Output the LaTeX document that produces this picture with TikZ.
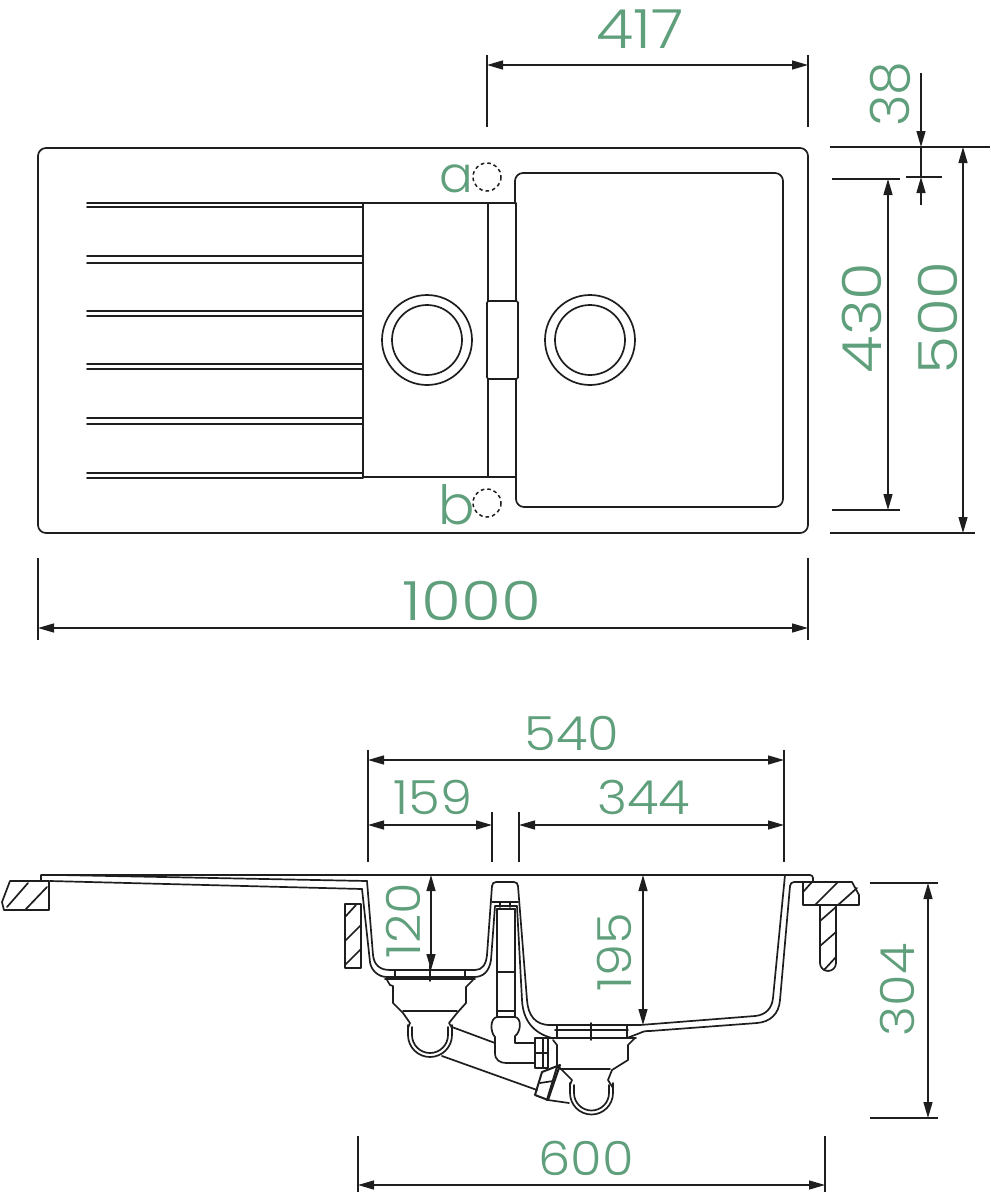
\documentclass[tikz,border=0pt]{standalone}
\usepackage{fontspec}
\setmainfont{Poppins Light}
\usetikzlibrary{arrows.meta}
\definecolor{dimgreen}{HTML}{5F9F7B}
\definecolor{ink}{HTML}{1E1E1E}
\tikzset{
  part/.style={draw=ink,line width=1.7pt,line join=round,line cap=round},
  hole/.style={draw=ink,line width=1.5pt,dashed,dash pattern=on 3.6pt off 3pt},
  extline/.style={draw=ink,line width=1.7pt},
  dimline/.style={draw=ink,line width=1.4pt,{Triangle[length=16pt,width=9pt]}-{Triangle[length=16pt,width=9pt]}},
  dimend/.style={draw=ink,line width=1.4pt,-{Triangle[length=16pt,width=9pt]}},
  dimtext/.style={text=dimgreen,font=\fontsize{54}{54}\selectfont,inner sep=0pt},
  dimwide/.style={dimtext,font=\fontsize{54}{54}\selectfont\addfontfeatures{FakeStretch=#1}},
  sectext/.style={dimtext,font=\fontsize{47}{47}\selectfont\addfontfeatures{FakeStretch=1.09}},
}
\begin{document}
\begin{tikzpicture}[x=1pt,y=-1pt]
\useasboundingbox (0,0) rectangle (991,1200);
% ---------- top view ----------
\draw[part,rounded corners=8pt] (38,148) rectangle (808,533);
\draw[part,rounded corners=8pt] (363,203) [sharp corners] -- (515,203) [rounded corners=8pt] -- (515,173) -- (783,173) -- (783,507) -- (516,507) [sharp corners] -- (516,477) -- (363,477) -- cycle;
\draw[part] (488,203) -- (488,301) (488,379) -- (488,477);
\draw[part] (516,203) -- (516,301) (516,379) -- (516,477);
\draw[part,rounded corners=1.5pt] (487,301) rectangle (518,379);
\foreach \yy/\ya in {203/207,256/263,311/316,364/369,418/424,473/478}{
  \draw[part] (87,\yy) -- (363,\yy) (87,\ya) -- (363,\ya);
}
\draw[part] (427,340) circle[radius=45] (427,340) circle[radius=35];
\draw[part] (590,340) circle[radius=45] (590,340) circle[radius=35];
\draw[hole] (487,177) circle[radius=14] (487,503) circle[radius=14];
\node[dimtext,font=\fontsize{50}{50}\selectfont] (lbla) at (456,179) {a};
\node[dimtext] (lblb) at (457,505) {b};
% top view dimensions
\draw[extline] (487,55) -- (487,127) (808,55) -- (808,127);
\coordinate (d417a) at (487,65); \coordinate (d417b) at (808,65);
\draw[dimline] (d417a) -- (d417b);
\node[dimwide=1.12] (t417) at (640,29) {417};
\draw[extline] (830,147) -- (990,147) (906,177) -- (942,177) (832,179) -- (900,179) (832,510) -- (900,510) (830,533) -- (975,533);
\coordinate (d38top) at (921,73); \coordinate (d38a) at (921,147);
\coordinate (d38bot) at (921,205); \coordinate (d38b) at (921,177);
\draw[dimend] (d38top) -- (d38a);
\draw[dimend] (d38bot) -- (d38b);
\draw[draw=ink,line width=1.4pt] (d38a) -- (d38b);
\node[dimtext,rotate=90] (t38) at (890,94) {38};
\coordinate (d430a) at (888,179); \coordinate (d430b) at (888,510);
\draw[dimline] (d430a) -- (d430b);
\node[dimwide=1.13,rotate=90] (t430) at (862,318) {430};
\coordinate (d500a) at (963,147); \coordinate (d500b) at (963,533);
\draw[dimline] (d500a) -- (d500b);
\node[dimwide=1.14,rotate=90] (t500) at (938,318) {500};
\draw[extline] (38,558) -- (38,640) (808,558) -- (808,640);
\coordinate (d1000a) at (38,628); \coordinate (d1000b) at (808,628);
\draw[dimline] (d1000a) -- (d1000b);
\node[dimwide=1.2] (t1000) at (472,601) {1000};
% ---------- section ----------
% rim
\draw[part] (41,881) -- (41,875) -- (810,875) arc[start angle=-90,end angle=0,radius=3] -- (813,881);
\draw[part] (60,875) -- (367,881);
\draw[part] (50,881) -- (362,889);
% basin walls
\draw[part] (367,881) -- (373,955) .. controls (374,965) and (380,970) .. (390,970) -- (475,970) .. controls (482,970) and (486,965) .. (487,955) -- (492,886) arc[start angle=180,end angle=270,radius=4] -- (514,882) arc[start angle=-90,end angle=0,radius=4] -- (527,1000) .. controls (528,1015) and (535,1025) .. (550,1025) -- (640,1025) -- (755,1016) .. controls (766,1015) and (772,1008) .. (773,998) -- (785,875);
\draw[part] (362,889) -- (370,962) .. controls (371,970) and (378,977) .. (387,977) -- (474,977) .. controls (483,977) and (489,972) .. (491,960) -- (495,906) -- (517,906) -- (522,1000) .. controls (523,1020) and (533,1033) .. (552,1038);
\draw[part] (627,1038) -- (640,1033) .. controls (644,1031) and (646,1031) .. (650,1031) -- (757,1023) .. controls (770,1022) and (779,1014) .. (780,1000) -- (790,886) arc[start angle=180,end angle=270,radius=4] -- (813,882);
% waste tube
\draw[part] (492,902) -- (518,902);
\draw[part] (500,902) -- (500,907) (510,902) -- (510,907);
\draw[part,line width=2.6pt] (497,909) -- (515,909);
\draw[part] (497,909) -- (497,1017) (515,909) -- (515,1017) (497,972) -- (515,972) (497,1011) -- (515,1011);
\draw[part] (497,1017) .. controls (490,1018) and (490,1032) .. (495,1037) -- (495,1053) .. controls (495,1060) and (500,1063) .. (506,1063) -- (535,1063);
\draw[part] (497,1017) -- (515,1017) .. controls (522,1018) and (521,1032) .. (515,1036) -- (515,1043) -- (535,1043);
\draw[part,line width=2pt] (535,1038) rectangle (548,1068) (535,1053) -- (548,1053) (543,1038) -- (543,1068);
% left strainer
\draw[part] (395,970) -- (395,979) (465,970) -- (465,979) (430,965) -- (430,981);
\draw[part] (385,979) -- (475,979);
\draw[part] (387,980) -- (390,985) -- (393,986) -- (393,1003) -- (403,1013) -- (410,1023) -- (408,1028);
\draw[part] (473,980) -- (468,985) -- (466,987) -- (466,1003) -- (457,1013) -- (449,1023) -- (452,1028);
\draw[part] (403,1011) -- (457,1011);
\draw[part] (408,1025) -- (408,1035) arc[start angle=180,end angle=0,radius=22] -- (452,1025);
\draw[part] (412,1027) -- (412,1035) arc[start angle=180,end angle=0,radius=18] -- (448,1027);
% right strainer
\draw[part] (555,1030) -- (628,1030) (548,1038) -- (636,1038) (557,1025) -- (557,1038) (627,1025) -- (627,1038) (591,1023) -- (591,1040);
\draw[part] (553,1040) -- (557,1045) -- (557,1065) -- (572,1080) -- (570,1085);
\draw[part] (635,1038) -- (628,1045) -- (628,1060) -- (612,1070) -- (608,1080) -- (613,1088);
\draw[part] (560,1069) -- (610,1069);
\draw[part] (570,1083) -- (570,1093) arc[start angle=180,end angle=0,radius=21.5] -- (613,1083);
\draw[part] (574,1085) -- (574,1093) arc[start angle=180,end angle=0,radius=17.5] -- (609,1085);
% connecting pipes
\draw[part] (452,1027) -- (495,1043);
\draw[part] (442,1056) -- (537,1090);
\draw[part] (548,1100) -- (569,1103);
\draw[part,line width=2pt] (542,1072) -- (560,1065) -- (548,1100) -- (535,1095) -- cycle;
\draw[part,line width=2pt] (557,1067) -- (547,1100);
\draw[part] (540,1083) -- (553,1081);
% left worktop block and leg
\draw[part] (10,881) -- (49,881) -- (49,910) -- (4,910) -- (2,902) -- cycle;
\draw[part] (7,907) -- (28,883) (25,910) -- (47,887);
\draw[part] (345,904) rectangle (361,968);
\draw[part] (345,917) -- (356,905) (345,941) -- (361,925) (345,965) -- (361,949);
% right worktop block and leg
\draw[part] (803,882) -- (852,882) -- (859,895) -- (859,905) -- (803,905) -- cycle;
\draw[part] (803,892) -- (812,882) (815,905) -- (838,882) (838,905) -- (857,888);
\draw[part] (820,905) -- (820,963) arc[start angle=180,end angle=0,radius=8] -- (836,905);
\draw[part] (820,921) -- (836,907) (820,946) -- (836,932) (824,970) -- (836,957);
% section dimensions
\draw[extline] (368,750) -- (368,862) (784,750) -- (784,862) (492,812) -- (492,862) (519,812) -- (519,862);
\coordinate (d540a) at (368,760); \coordinate (d540b) at (784,760);
\draw[dimline] (d540a) -- (d540b);
\node[sectext] (t540) at (572,733) {540};
\coordinate (d159a) at (368,825); \coordinate (d159b) at (492,825);
\draw[dimline] (d159a) -- (d159b);
\node[sectext] (t159) at (433,797) {159};
\coordinate (d344a) at (519,825); \coordinate (d344b) at (784,825);
\draw[dimline] (d344a) -- (d344b);
\node[sectext] (t344) at (644,797) {344};
\coordinate (d120a) at (431,875); \coordinate (d120b) at (431,970);
\draw[dimline] (d120a) -- (d120b);
\node[sectext,rotate=90] (t120) at (403,921) {120};
\coordinate (d195a) at (643,875); \coordinate (d195b) at (643,1025);
\draw[dimline] (d195a) -- (d195b);
\node[sectext,rotate=90] (t195) at (614,952) {195};
\draw[extline] (870,883) -- (938,883) (870,1118) -- (938,1118);
\coordinate (d304a) at (928,883); \coordinate (d304b) at (928,1118);
\draw[dimline] (d304a) -- (d304b);
\node[sectext,rotate=90] (t304) at (897,990) {304};
\draw[extline] (358,1136) -- (358,1192) (825,1136) -- (825,1192);
\coordinate (d600a) at (358,1185); \coordinate (d600b) at (825,1185);
\draw[dimline] (d600a) -- (d600b);
\node[sectext] (t600) at (586,1158) {600};
\end{tikzpicture}
\end{document}
